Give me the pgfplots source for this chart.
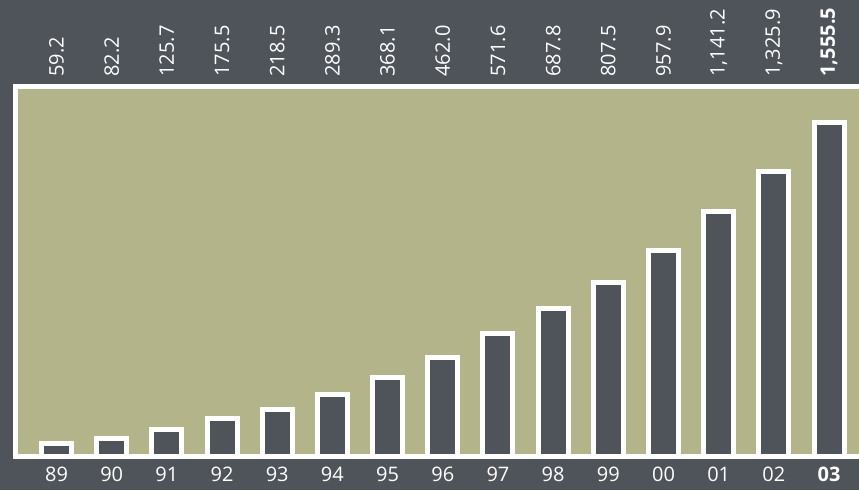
\documentclass[border=0pt]{standalone}
\usepackage{pgfplots}
\pgfplotsset{compat=1.18}
\usepackage{fontspec}
\setmainfont{Open Sans}
\definecolor{slate}{RGB}{79,84,91}
\definecolor{khaki}{RGB}{179,180,138}
\begin{document}
\begin{tikzpicture}[x=1pt,y=1pt]
\fill[slate] (0,0) rectangle (859,490);
\begin{scope}
\clip (0,0) rectangle (859,490);
\begin{axis}[
  at={(15.5pt,33.8pt)}, anchor=south west,
  scale only axis, width=852.2pt, height=369.7pt,
  xmin=-0.743, xmax=14.7, ymin=0, ymax=1723,
  axis background/.style={fill=khaki},
  axis line style={white, line width=5pt},
  ybar, bar width=30pt,
  ytick=\empty,
  xtick={0,...,14},
  xticklabels={89,90,91,92,93,94,95,96,97,98,99,00,01,02,\textbf{03}},
  major tick length=0pt,
  tick style={draw=none},
  tick label style={white, font=\fontsize{20}{24}\selectfont},
  xticklabel style={anchor=base, yshift=-25.5pt},
  extra x ticks={0,...,14},
  extra x tick labels={59.2,82.2,125.7,175.5,218.5,289.3,368.1,462.0,571.6,687.8,807.5,957.9,{1,141.2},{1,325.9},{\textbf{1,555.5}}},
  extra x tick style={xticklabel pos=upper, xticklabel style={yshift=32pt, rotate=90, anchor=west}},
]
\addplot[draw=white, line width=5pt, fill=slate] table {
x y
0 59.2
1 82.2
2 125.7
3 175.5
4 218.5
5 289.3
6 368.1
7 462.0
8 571.6
9 687.8
10 807.5
11 957.9
12 1141.2
13 1325.9
14 1555.5
};
\end{axis}
\end{scope}
\pgfresetboundingbox
\useasboundingbox (0,0) rectangle (859,490);
\end{tikzpicture}
\end{document}
